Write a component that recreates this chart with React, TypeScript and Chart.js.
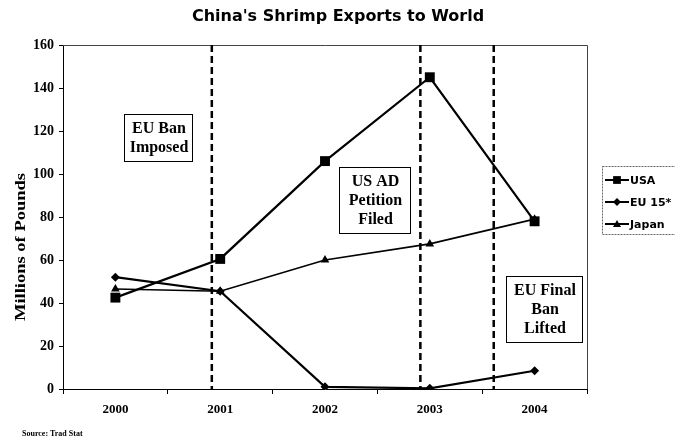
import { useEffect, useRef } from 'react';
import { Chart, registerables } from 'chart.js';

Chart.register(...registerables);

const years = ['2000', '2001', '2002', '2003', '2004'];
const usa = [42.5, 60.5, 106, 145, 78];
const eu15 = [52, 45.5, 1, 0.3, 8.5];
const japan = [46.5, 45.5, 60, 67.5, 79];
const seriesNames = ['USA', 'EU 15*', 'Japan'];
const yMin = 0;
const yMax = 160;
const yStep = 20;
// event lines, as positions on the category axis (index units)
const eventPositions = [0.92, 2.91, 3.61];
const eventTexts = [
  ['EU Ban', 'Imposed'],
  ['US AD', 'Petition', 'Filed'],
  ['EU Final', 'Ban', 'Lifted'],
];
const titleText = "China's Shrimp Exports to World";
const yTitleText = 'Millions of Pounds';
const sourceText = 'Source: Trad Stat';

// layout of the annotation boxes (pixels)
const boxLayout = [
  { x: 124, y: 114, w: 68, h: 47 },
  { x: 339, y: 167, w: 71, h: 66 },
  { x: 506, y: 276, w: 76, h: 66 },
];

const serif = "'Liberation Serif', 'Times New Roman', serif";
const sans = "'DejaVu Sans', Verdana, sans-serif";

function drawMarker(ctx: CanvasRenderingContext2D, style: string, x: number, y: number, r: number) {
  ctx.beginPath();
  if (style === 'rect') {
    const s = r * Math.SQRT1_2;
    ctx.rect(x - s, y - s, 2 * s, 2 * s);
  } else if (style === 'rectRot') {
    ctx.moveTo(x, y - r);
    ctx.lineTo(x + r, y);
    ctx.lineTo(x, y + r);
    ctx.lineTo(x - r, y);
    ctx.closePath();
  } else {
    ctx.moveTo(x, y - r);
    ctx.lineTo(x + r, y + r * 0.75);
    ctx.lineTo(x - r, y + r * 0.75);
    ctx.closePath();
  }
  ctx.fill();
}

const decorPlugin = {
  id: 'decor',
  beforeDatasetsDraw(chart: any) {
    const { ctx, chartArea } = chart;
    const xs = chart.scales.x;
    ctx.save();
    // top & right frame
    ctx.strokeStyle = '#444';
    ctx.lineWidth = 1;
    ctx.beginPath();
    ctx.moveTo(chartArea.left, chartArea.top + 0.5);
    ctx.lineTo(chartArea.right + 0.5, chartArea.top + 0.5);
    ctx.lineTo(chartArea.right + 0.5, chartArea.bottom);
    ctx.stroke();
    // dashed event lines
    ctx.strokeStyle = '#000';
    ctx.lineWidth = 2.5;
    ctx.setLineDash([7, 4]);
    eventPositions.forEach((p) => {
      const px = xs.getPixelForValue(p);
      ctx.beginPath();
      ctx.moveTo(px, chartArea.top);
      ctx.lineTo(px, chartArea.bottom);
      ctx.stroke();
    });
    ctx.restore();
  },
  afterDatasetsDraw(chart: any) {
    const { ctx } = chart;
    ctx.save();
    ctx.font = `bold 16px ${serif}`;
    ctx.textAlign = 'center';
    ctx.textBaseline = 'middle';
    eventTexts.forEach((lines, i) => {
      const b = boxLayout[i];
      ctx.fillStyle = '#fff';
      ctx.fillRect(b.x, b.y, b.w, b.h);
      ctx.strokeStyle = '#000';
      ctx.lineWidth = 1;
      ctx.strokeRect(b.x + 0.5, b.y + 0.5, b.w, b.h);
      ctx.fillStyle = '#000';
      const lh = 19;
      const cy = b.y + b.h / 2 + 1;
      lines.forEach((t, j) => {
        ctx.fillText(t, b.x + b.w / 2 + 1, cy + (j - (lines.length - 1) / 2) * lh);
      });
    });
    ctx.restore();
  },
  afterDraw(chart: any) {
    const { ctx } = chart;
    ctx.save();
    ctx.fillStyle = '#000';
    // title
    ctx.font = `bold 16px ${sans}`;
    ctx.textAlign = 'center';
    ctx.textBaseline = 'middle';
    ctx.fillText(titleText, 338, 17);
    // y title (stretched along its length like the reference)
    ctx.save();
    ctx.translate(21, 247);
    ctx.rotate(-Math.PI / 2);
    ctx.font = `bold 14px ${serif}`;
    const w = ctx.measureText(yTitleText).width;
    ctx.scale(148 / w, 1);
    ctx.fillText(yTitleText, 0, 0);
    ctx.restore();
    // source
    ctx.font = `bold 8px ${serif}`;
    ctx.textAlign = 'left';
    ctx.fillText(sourceText, 22, 434);
    // legend
    const lx = 602;
    const ly = 166;
    ctx.strokeStyle = '#666';
    ctx.lineWidth = 1;
    ctx.setLineDash([2, 1]);
    ctx.strokeRect(lx + 0.5, ly + 0.5, 90, 68);
    ctx.setLineDash([]);
    const styles = ['rect', 'rectRot', 'triangle'];
    const radii = [5.5, 4, 4];
    ctx.font = `bold 11px ${sans}`;
    seriesNames.forEach((name, i) => {
      const y = 180 + i * 22;
      ctx.strokeStyle = '#000';
      ctx.lineWidth = 2;
      ctx.beginPath();
      ctx.moveTo(lx + 3, y);
      ctx.lineTo(lx + 27, y);
      ctx.stroke();
      drawMarker(ctx, styles[i], lx + 15, y, radii[i]);
      ctx.fillText(name, lx + 28, y + 1);
    });
    ctx.restore();
  },
};

export default function App() {
  const ref = useRef<HTMLCanvasElement>(null);
  useEffect(() => {
    if (!ref.current) return;
    const chart = new Chart(ref.current, {
      type: 'line',
      data: {
        labels: years,
        datasets: [
          {
            label: seriesNames[0],
            data: usa,
            borderColor: '#000',
            backgroundColor: '#000',
            borderWidth: 2.2,
            pointStyle: 'rect',
            pointRadius: 7,
            pointBorderWidth: 0,
          },
          {
            label: seriesNames[1],
            data: eu15,
            borderColor: '#000',
            backgroundColor: '#000',
            borderWidth: 2.2,
            pointStyle: 'rectRot',
            pointRadius: 4.5,
            pointBorderWidth: 0,
          },
          {
            label: seriesNames[2],
            data: japan,
            borderColor: '#000',
            backgroundColor: '#000',
            borderWidth: 1.6,
            pointStyle: 'triangle',
            pointRadius: 5,
            pointBorderWidth: 0,
          },
        ],
      },
      options: {
        responsive: false,
        animation: false,
        devicePixelRatio: 1,
        layout: { padding: { left: 0, right: 88, top: 45, bottom: 0 } },
        plugins: {
          legend: { display: false },
          title: { display: false },
          tooltip: { enabled: false },
        },
        scales: {
          x: {
            type: 'category',
            offset: true,
            grid: {
              offset: true,
              drawOnChartArea: false,
              drawTicks: true,
              tickLength: 5,
              color: '#000',
            },
            border: { color: '#000', width: 1 },
            ticks: {
              font: { family: serif, weight: 'bold', size: 13 },
              color: '#000',
              padding: 8,
              maxRotation: 0,
            },
            afterFit: (s: any) => {
              s.height = 54;
            },
          },
          y: {
            min: yMin,
            max: yMax,
            grid: { drawOnChartArea: false, tickLength: 4, color: '#000' },
            border: { color: '#000', width: 1 },
            ticks: {
              stepSize: yStep,
              font: { family: serif, weight: 'bold', size: 14 },
              color: '#000',
              padding: 5,
            },
            afterFit: (s: any) => {
              s.width = 63;
            },
          },
        },
      },
      plugins: [decorPlugin],
    });
    return () => chart.destroy();
  }, []);
  return (
    <div style={{ position: 'fixed', left: 0, top: 0, width: 675, height: 443, background: '#fff' }}>
      <canvas ref={ref} width={675} height={443} />
    </div>
  );
}
